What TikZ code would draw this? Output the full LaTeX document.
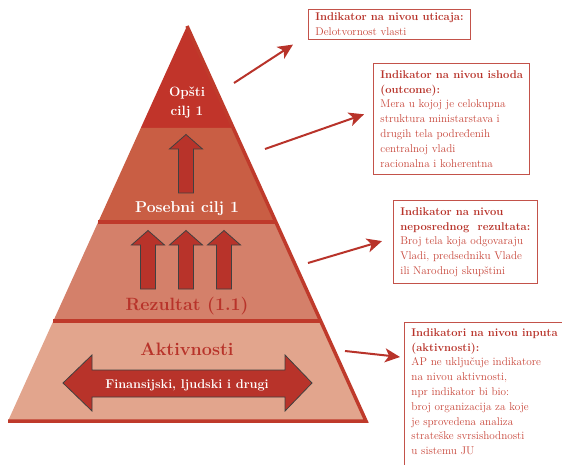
\documentclass[tikz,border=0pt]{standalone}
\usepackage{fontspec}
\usepackage{tikz}
\usetikzlibrary{arrows.meta,positioning,calc}
\definecolor{pyrtop}{HTML}{C1342A}
\definecolor{pyrgoal}{HTML}{C95E44}
\definecolor{pyrres}{HTML}{D4806A}
\definecolor{pyract}{HTML}{E2A58D}
\definecolor{pyrline}{HTML}{BF3A2B}
\definecolor{indred}{HTML}{B8332A}
\definecolor{indtext}{HTML}{C8473B}

\tikzset{
  indbox/.style={draw=indred!85,line width=0.9pt,fill=white,inner xsep=7pt,inner ysep=7pt,
    align=left,anchor=north west,font=\fontsize{11.2}{14.8}\selectfont,text=indtext},
  pointer/.style={draw=indred,line width=2pt,-{Stealth[length=15pt,width=14pt,inset=4pt]}},
  sepline/.style={draw=pyrline,line width=3.5pt},
  fatarrow/.style={fill=indred,draw=black!75,line width=0.8pt,line join=miter},
  uparrow/.pic={\path[fatarrow] (-7.5,0) -- (-7.5,-44) -- (-16.5,-44) -- (0,-58.5)
      -- (16.5,-44) -- (7.5,-44) -- (7.5,0) -- cycle;},
}

\begin{document}
\begin{tikzpicture}[x=1pt,y=-1pt]
\useasboundingbox (0,0) rectangle (562,465);

% pyramid
\coordinate (apex) at (187,26);
\coordinate (bl) at (8,421);
\coordinate (br) at (366,421);
\coordinate (l1) at ($(apex)!0.2582!(bl)$);
\coordinate (r1) at ($(apex)!0.2582!(br)$);
\coordinate (l2) at ($(apex)!0.4962!(bl)$);
\coordinate (r2) at ($(apex)!0.4962!(br)$);
\coordinate (l3) at ($(apex)!0.7468!(bl)$);
\coordinate (r3) at ($(apex)!0.7468!(br)$);
\fill[pyrtop] (apex) -- (l1) -- (r1) -- cycle;
\fill[pyrgoal] (l1) -- (l2) -- (r2) -- (r1) -- cycle;
\fill[pyrres] (l2) -- (l3) -- (r3) -- (r2) -- cycle;
\fill[pyract] (l3) -- (bl) -- (br) -- (r3) -- cycle;
\draw[sepline] (l2) -- (r2) (l3) -- (r3);
\draw[sepline] (apex) -- (br) -- (bl);

% arrows inside the levels
\pic at (186,193) {uparrow};
\foreach \x in {148,186,224}
  \pic at (\x,289) {uparrow};
\path[fatarrow] (63,383) -- (92,355) -- (92,370) -- (285,370) -- (285,355) -- (312,383)
  -- (285,411) -- (285,397) -- (92,397) -- (92,411) -- cycle;

% level labels
\node[text=white,align=center,font=\bfseries\fontsize{13.5}{19}\selectfont] (general) at (187,103) {Opšti\\cilj 1};
\node[text=white,anchor=base,font=\bfseries\fontsize{15.7}{18}\selectfont] (specific) at (187,213) {Posebni cilj 1};
\node[text=indred,anchor=base,font=\bfseries\fontsize{17.8}{20}\selectfont] (result) at (187,310) {Rezultat (1.1)};
\node[text=indred,anchor=base,font=\bfseries\fontsize{18}{20}\selectfont] (activity) at (187,355) {Aktivnosti};
\node[text=white,anchor=base,font=\bfseries\fontsize{12.7}{14}\selectfont] (means) at (187,388) {Finansijski, ljudski i drugi};

% indicator boxes
\node[indbox,inner ysep=3.5pt] (impact) at (308,9) {\textcolor{indred}{\textbf{Indikator na nivou uticaja:}}\\Delotvornost vlasti};
\node[indbox] (outcome) at (373,63) {\textcolor{indred}{\textbf{Indikator na nivou ishoda}}\\\textcolor{indred}{\textbf{(outcome):}}\\Mera u kojoj je celokupna\\struktura ministarstava i\\drugih tela podređenih\\centralnoj vladi\\racionalna i koherentna};
\node[indbox] (output) at (393,200) {\textcolor{indred}{\textbf{Indikator na nivou}}\\\textcolor{indred}{\textbf{neposrednog\ \ rezultata:}}\\Broj tela koja odgovaraju\\Vladi, predsedniku Vlade\\ili Narodnoj skupštini};
\node[indbox,draw=none,fill=none,inner ysep=6pt] (inputs) at (404,322) {\textcolor{indred}{\textbf{Indikatori na nivou inputa}}\\\textcolor{indred}{\textbf{(aktivnosti):}}\\AP ne uključuje indikatore\\na nivou aktivnosti,\\npr indikator bi bio:\\broj organizacija za koje\\je sprovedena analiza\\strateške svrsishodnosti\\u sistemu JU};
\draw[draw=indred!85,line width=0.9pt] (inputs.north west) rectangle ([xshift=30pt,yshift=-30pt]inputs.south east);

% pointers
\coordinate (fromimpact) at (234,83);
\coordinate (fromoutcome) at (265,149);
\coordinate (fromoutput) at (308,263);
\coordinate (frominputs) at (345,351);
\draw[pointer] (fromimpact) -- ([shift={(-15,5)}]impact.south west);
\draw[pointer] (fromoutcome) -- ([shift={(-9,-4.5)}]outcome.west);
\draw[pointer] (fromoutput) -- ([shift={(-11,-1)}]output.west);
\draw[pointer] (frominputs) -- ([shift={(-4,35)}]inputs.north west);
\end{tikzpicture}
\end{document}
